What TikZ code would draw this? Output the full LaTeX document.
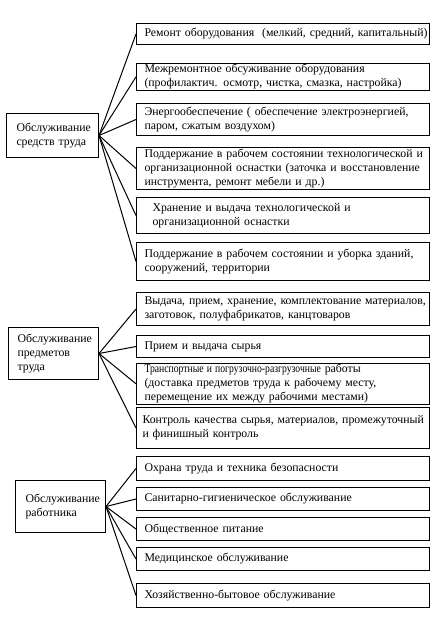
\documentclass[tikz,border=0pt]{standalone}
\usepackage{fontspec}
\setmainfont{Liberation Serif}
\usepackage{graphicx}
\newcommand{\ZL}[1]{\makebox[\linewidth][l]{#1}}
\begin{document}
\begin{tikzpicture}[x=1pt,y=-1pt,
  rbox/.style={draw, line width=1pt, anchor=north west, text width=277pt, inner xsep=8pt, inner ysep=1pt, align=left, font=\fontsize{11.8}{13.8}\selectfont},
  lbox/.style={draw, line width=1pt, anchor=north west, inner ysep=1pt, align=left, font=\fontsize{11.8}{13.8}\selectfont},
  conn/.style={line width=1pt}]
\useasboundingbox (0,0) rectangle (444,621);
\fill[white] (0,0) rectangle (444,621);
% right boxes
\node[rbox, minimum height=21pt] (b1) at (136,23) {\ZL{Ремонт оборудования\ \ (мелкий, средний, капитальный)}};
\node[rbox, minimum height=26pt] (b2) at (136,63) {\ZL{Межремонтное обсуживание оборудования}\\\ZL{(профилактич. осмотр, чистка, смазка, настройка)}};
\node[rbox, minimum height=32pt] (b3) at (136,103) {\ZL{Энергообеспечение ( обеспечение электроэнергией,}\\\ZL{паром, сжатым воздухом)}};
\node[rbox, minimum height=42pt] (b4) at (136,147) {\ZL{Поддержание в рабочем состоянии технологической и}\\\ZL{организационной оснастки (заточка и восстановление}\\\ZL{инструмента, ремонт мебели и др.)}};
\node[rbox, minimum height=36pt] (b5) at (136,197) {\ZL{\hspace*{8pt}Хранение и выдача технологической и}\\\ZL{\hspace*{8pt}организационной оснастки}};
\node[rbox, minimum height=38pt] (b6) at (136,242) {\ZL{Поддержание в рабочем состоянии и уборка зданий,}\\\ZL{сооружений, территории}};
\node[rbox, minimum height=33pt] (b7) at (136,292) {\ZL{Выдача, прием, хранение, комплектование материалов,}\\\ZL{заготовок, полуфабрикатов, канцтоваров}};
\node[rbox, minimum height=22pt] (b8) at (136,335) {\ZL{Прием и выдача сырья}};
\node[rbox, minimum height=39pt] (b9) at (136,363) {\ZL{\scalebox{0.82}[1]{Транспортные и погрузочно-разгрузочные} работы}\\\ZL{(доставка предметов труда к рабочему месту,}\\\ZL{перемещение их между рабочими местами)}};
\node[rbox, minimum height=41pt, inner xsep=6pt, text width=281pt] (b10) at (136,407) {\ZL{Контроль качества сырья, материалов, промежуточный}\\\ZL{и финишный контроль}};
\node[rbox, minimum height=24pt] (b11) at (136,456) {\ZL{Охрана труда и техника безопасности}};
\node[rbox, minimum height=23pt] (b12) at (136,487) {\ZL{Санитарно-гигиеническое обслуживание}};
\node[rbox, minimum height=23pt] (b13) at (136,517) {\ZL{Общественное питание}};
\node[rbox, minimum height=23pt] (b14) at (136,547) {\ZL{Медицинское обслуживание}};
\node[rbox, minimum height=24pt] (b15) at (136,583) {\ZL{Хозяйственно-бытовое обслуживание}};
% left boxes
\node[lbox, minimum height=44pt, text width=78pt, inner xsep=7pt] (L1) at (6,113) {\ZL{\hspace*{3pt}Обслуживание}\\\ZL{\hspace*{3pt}средств труда}};
\node[lbox, minimum height=52pt, text width=74pt, inner xsep=8pt] (L2) at (8,327) {\ZL{\hspace*{1pt}Обслуживание}\\\ZL{\hspace*{1pt}предметов}\\\ZL{\hspace*{1pt}труда}};
\node[lbox, minimum height=52pt, text width=74pt, inner xsep=8pt] (L3) at (15,480) {\ZL{\hspace*{2pt}Обслуживание}\\\ZL{\hspace*{2pt}работника}};
% connectors
\foreach \b in {b1,b2,b3,b4,b5,b6} \draw[conn] (L1.east) -- (\b.west);
\foreach \b in {b7,b8,b9,b10} \draw[conn] (L2.east) -- (\b.west);
\foreach \b in {b11,b12,b13,b14,b15} \draw[conn] (L3.east) -- (\b.west);
\end{tikzpicture}
\end{document}
